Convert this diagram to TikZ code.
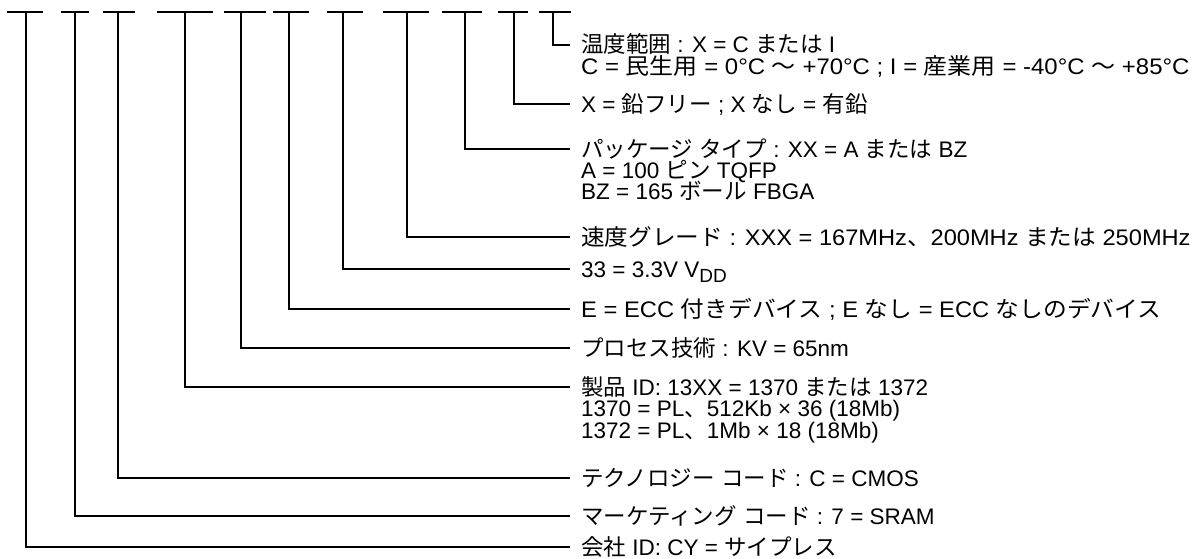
\documentclass[tikz,border=0pt]{standalone}
\usepackage{fontspec}
\usepackage{graphicx}
\setmainfont{Liberation Sans}
\newfontfamily\jp{Noto Sans CJK JP}
\begin{document}
\begin{tikzpicture}[x=1pt,y=-1pt,
  conn/.style={line width=2pt,line cap=rect},
  lbl/.style={anchor=base west,inner sep=0pt,font=\fontsize{22.5}{22.5}\selectfont}]
\useasboundingbox (0,0) rectangle (1197,558);
% label baselines: centre + 8
\def\tx{581}
\node[lbl] (l1a) at (\tx,52.5) {{\jp 温度範囲} : X = C {\jp または} I};
\node[lbl] (l1b) at (\tx,74.5) {\scalebox{1.065}[1]{C = {\jp 民生用} = 0°C {\jp ～} +70°C ; I = {\jp 産業用} = -40°C {\jp ～} +85°C}};
\node[lbl] (l2) at (\tx,112) {X = {\jp 鉛フリー} ; X {\jp なし} = {\jp 有鉛}};
\node[lbl] (l3a) at (\tx,157) {{\jp パッケージ} {\jp タイプ} : XX = A {\jp または} BZ};
\node[lbl] (l3b) at (\tx,178) {A = 100 {\jp ピン} TQFP};
\node[lbl] (l3c) at (\tx,199) {BZ = 165 {\jp ボール} FBGA};
\node[lbl] (l4) at (\tx,245) {\scalebox{1.05}[1]{{\jp 速度グレード} : XXX = 167MHz{\jp 、}200MHz {\jp または} 250MHz}};
\node[lbl] (l5) at (\tx,277) {33 = 3.3V V\raisebox{-0.25em}{\fontsize{19}{19}\selectfont DD}};
\node[lbl] (l6) at (\tx,317) {\scalebox{1.055}[1]{E = ECC {\jp 付きデバイス} ; E {\jp なし} = ECC {\jp なしのデバイス}}};
\node[lbl] (l7) at (\tx,356) {{\jp プロセス技術} : KV = 65nm};
\node[lbl] (l8a) at (\tx,395) {{\jp 製品} ID: 13XX = 1370 {\jp または} 1372};
\node[lbl] (l8b) at (\tx,416.5) {1370 = PL{\jp 、}512Kb × 36 (18Mb)};
\node[lbl] (l8c) at (\tx,438) {1372 = PL{\jp 、}1Mb × 18 (18Mb)};
\node[lbl] (l9) at (\tx,486) {{\jp テクノロジー} {\jp コード} : C = CMOS};
\node[lbl] (l10) at (\tx,524) {{\jp マーケティング} {\jp コード} : 7 = SRAM};
\node[lbl] (l11) at (\tx,555) {{\jp 会社} ID: CY = {\jp サイプレス}};
% bars (top) and connector ends
\foreach \i/\a/\b/\v/\y in {1/8/42/26/547, 2/62/88/75/516, 3/104/134/118/478, 4/158/212/185/387,
  5/225/265/241/348, 6/274/308/289/309, 7/328/362/343/269, 8/384/428/407/237,
  9/443/481/465/149, 10/499/527/514/104, 11/540/570/553/44.5}{
  \coordinate (bl\i) at (\a,12);
  \coordinate (br\i) at (\b,12);
  \coordinate (bt\i) at (\v,12);
  \coordinate (e\i) at (570,\y);
  \draw[conn] (bl\i) -- (br\i);
  \draw[conn,line cap=butt] (bt\i) |- (e\i);
}
\end{tikzpicture}
\end{document}
